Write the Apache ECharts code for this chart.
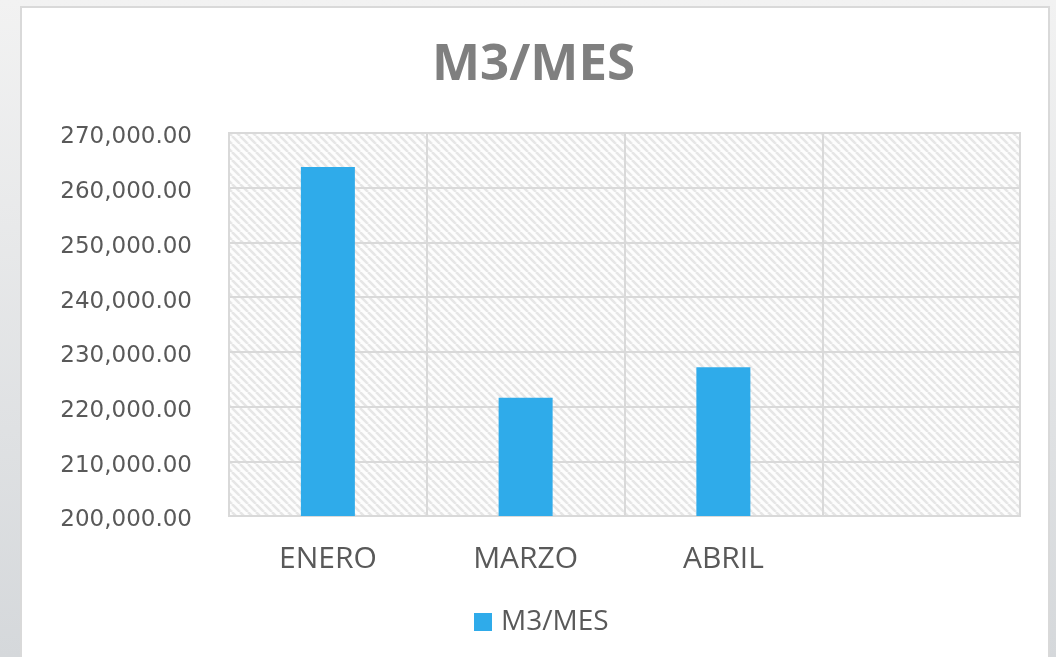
<!DOCTYPE html>
<html>
<head>
<meta charset="utf-8">
<script src="https://cdn.jsdelivr.net/npm/echarts@6/dist/echarts.min.js"></script>
<style>
  html, body { margin: 0; padding: 0; }
  body { background: linear-gradient(to bottom, #f2f2f2, #d5d8db); }
  #chart { width: 1056px; height: 657px; }
</style>
</head>
<body>
<div id="chart"></div>
<script>
const categories = ['ENERO', 'MARZO', 'ABRIL', '']
const values = [263800, 221600, 227200, null]
const seriesName = 'M3/MES'

// diagonal hatch tile for the plot area
function hatch() {
  const c = document.createElement('canvas')
  c.width = 8
  c.height = 8
  const ctx = c.getContext('2d')
  ctx.fillStyle = '#fdfdfd'
  ctx.fillRect(0, 0, 8, 8)
  ctx.strokeStyle = '#e6e6e6'
  ctx.lineWidth = 2.5
  for (const off of [-8, 0, 8]) {
    ctx.beginPath()
    ctx.moveTo(off, 0)
    ctx.lineTo(off + 8, 8)
    ctx.stroke()
  }
  return c
}

const myChart = echarts.init(document.getElementById('chart'))
const option = {
  backgroundColor: 'transparent',
  graphic: [{
    type: 'rect',
    z: -10,
    shape: { x: 21, y: 7, width: 1028, height: 700 },
    style: { fill: '#ffffff', stroke: '#d9d9d9', lineWidth: 2 }
  }],
  title: {
    text: seriesName,
    left: 427,
    top: 35,
    textStyle: {
      fontFamily: 'Open Sans',
      fontSize: 51,
      fontWeight: 'bold',
      color: '#7f7f7f'
    }
  },
  legend: {
    data: [seriesName],
    top: 603,
    left: 469,
    icon: 'rect',
    itemWidth: 18,
    itemHeight: 18,
    textStyle: {
      fontFamily: 'Open Sans',
      fontSize: 28,
      color: '#595959',
      padding: [0, 0, 0, 4]
    }
  },
  grid: {
    left: 229,
    right: 36,
    top: 133,
    bottom: 141,
    show: true,
    borderColor: '#d9d9d9',
    borderWidth: 2,
    backgroundColor: { image: hatch(), repeat: 'repeat' }
  },
  xAxis: {
    type: 'category',
    data: categories,
    axisLine: { lineStyle: { color: '#d9d9d9', width: 2 } },
    axisTick: { show: false },
    splitLine: { show: true, lineStyle: { color: '#d9d9d9', width: 2 } },
    axisLabel: {
      margin: 28,
      fontFamily: 'Open Sans',
      fontSize: 30,
      color: '#595959'
    }
  },
  yAxis: {
    type: 'value',
    min: 200000,
    max: 270000,
    interval: 10000,
    axisLine: { show: false },
    axisTick: { show: false },
    splitLine: { lineStyle: { color: '#d9d9d9', width: 2 } },
    axisLabel: {
      margin: 37,
      formatter: v => '{n|' + v.toLocaleString('en-US', { minimumFractionDigits: 2, maximumFractionDigits: 2 }) + '}',
      rich: {
        n: {
          fontFamily: 'DejaVu Sans',
          fontSize: 23,
          color: '#595959',
          padding: [9, 0, 0, 0]
        }
      }
    }
  },
  series: [{
    name: seriesName,
    type: 'bar',
    data: values,
    barWidth: 54,
    itemStyle: { color: '#2fabea' }
  }]
}
myChart.setOption(option)
</script>
</body>
</html>
